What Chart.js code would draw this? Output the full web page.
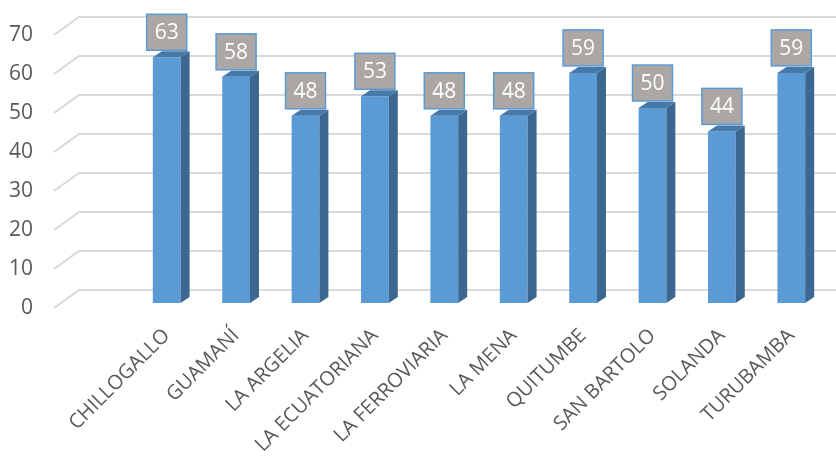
<!DOCTYPE html>
<html>
<head>
<meta charset="utf-8">
<script src="https://cdn.jsdelivr.net/npm/chart.js@4.4.1/dist/chart.umd.min.js"></script>
<style>
  html, body { margin: 0; padding: 0; background: #fff; }
  #wrap { width: 836px; height: 458px; position: relative; }
</style>
</head>
<body>
<div id="wrap"><canvas id="chart"></canvas></div>
<script>
// chart data
const parroquias = ['CHILLOGALLO', 'GUAMANÍ', 'LA ARGELIA', 'LA ECUATORIANA', 'LA FERROVIARIA',
                    'LA MENA', 'QUITUMBE', 'SAN BARTOLO', 'SOLANDA', 'TURUBAMBA'];
const valores = [63, 58, 48, 53, 48, 48, 59, 50, 44, 59];
const yTicks = [0, 10, 20, 30, 40, 50, 60, 70];

const depthX = 9, depthY = 6;

// back wall grid lines with the little slanted floor piece on the left
const backGrid = {
    id: 'backGrid',
    beforeDatasetsDraw(chart) {
        const ctx = chart.ctx;
        const y = chart.scales.y;
        ctx.save();
        ctx.strokeStyle = '#d9d9d9';
        ctx.lineWidth = 2;
        yTicks.forEach(v => {
            const py = y.getPixelForValue(v);
            ctx.beginPath();
            ctx.moveTo(54, py + 5);
            ctx.lineTo(79, py - 13);
            ctx.lineTo(chart.width, py - 13);
            ctx.stroke();
        });
        ctx.restore();
    }
};

// side + top faces and the boxed value labels
const bars3d = {
    id: 'bars3d',
    afterDatasetsDraw(chart) {
        const ctx = chart.ctx;
        const meta = chart.getDatasetMeta(0);
        ctx.save();
        meta.data.forEach((bar, i) => {
            const l = bar.x - bar.width / 2, r = bar.x + bar.width / 2;
            const top = bar.y, base = bar.base;
            // side
            ctx.fillStyle = '#3b6790';
            ctx.beginPath();
            ctx.moveTo(r, top);
            ctx.lineTo(r + depthX, top - depthY);
            ctx.lineTo(r + depthX, base - depthY);
            ctx.lineTo(r, base);
            ctx.closePath();
            ctx.fill();
            // top
            ctx.fillStyle = '#4779a8';
            ctx.beginPath();
            ctx.moveTo(l, top);
            ctx.lineTo(l + depthX, top - depthY);
            ctx.lineTo(r + depthX, top - depthY);
            ctx.lineTo(r, top);
            ctx.closePath();
            ctx.fill();

            // label box
            const bw = 40, bh = 36;
            const bx = bar.x - bw / 2, by = top - depthY - 1 - bh;
            ctx.fillStyle = '#aba7a5';
            ctx.fillRect(bx, by, bw, bh);
            ctx.strokeStyle = '#5b9bd5';
            ctx.lineWidth = 1.5;
            ctx.strokeRect(bx, by, bw, bh);
            ctx.fillStyle = '#ffffff';
            ctx.font = '21px "Open Sans"';
            ctx.textAlign = 'center';
            ctx.textBaseline = 'middle';
            ctx.fillText(String(valores[i]), bar.x, by + bh / 2 + 1);
        });
        ctx.restore();
    }
};

new Chart(document.getElementById('chart'), {
    type: 'bar',
    data: {
        labels: parroquias,
        datasets: [{
            data: valores,
            backgroundColor: '#5b9bd5',
            borderWidth: 0,
            barPercentage: 0.4,
            categoryPercentage: 1.0
        }]
    },
    options: {
        responsive: true,
        maintainAspectRatio: false,
        animation: false,
        layout: { padding: { top: 30, right: 10, left: 0, bottom: 0 } },
        plugins: {
            legend: { display: false },
            tooltip: { enabled: false }
        },
        scales: {
            y: {
                min: 0,
                max: 70,
                afterFit(scale) {
                    scale.width = 132;
                    // the big tick padding would otherwise push the chart area down
                    scale.paddingTop = 0;
                    scale.paddingBottom = 0;
                },
                grid: { display: false, drawTicks: false },
                border: { display: false },
                ticks: {
                    stepSize: 10,
                    padding: 99,
                    labelOffset: 5,
                    color: '#595959',
                    font: { family: 'Open Sans', size: 21 }
                }
            },
            x: {
                afterFit(scale) { scale.height = 155; },
                grid: { display: false, drawTicks: false },
                border: { display: false },
                ticks: {
                    autoSkip: false,
                    minRotation: 45,
                    maxRotation: 45,
                    padding: 21,
                    color: '#595959',
                    font: { family: 'Open Sans', size: 20 }
                }
            }
        }
    },
    plugins: [backGrid, bars3d]
});
</script>
</body>
</html>
